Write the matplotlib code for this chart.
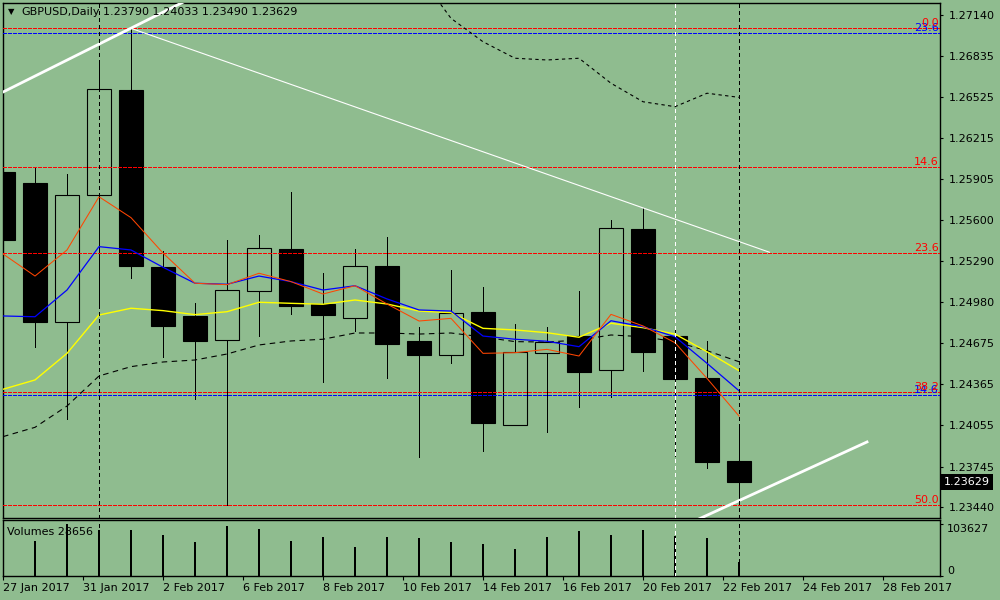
import numpy as np
import matplotlib
matplotlib.use('Agg')
import matplotlib.pyplot as plt

bg = '#8FBC8F'

# GBPUSD daily bars, left to right (last one is the current 22 Feb bar)
opens  = [1.25960, 1.25877, 1.24833, 1.25787, 1.26576, 1.25246, 1.24878, 1.24697,
          1.25066, 1.25381, 1.24968, 1.24863, 1.25254, 1.24690, 1.24585, 1.24908,
          1.24058, 1.24600, 1.24727, 1.24472, 1.25532, 1.24727, 1.24412, 1.23790]
highs  = [1.26043, 1.25998, 1.25945, 1.26802, 1.27040, 1.25366, 1.24975, 1.25449,
          1.25487, 1.25810, 1.25201, 1.25381, 1.25471, 1.24795, 1.25223, 1.25096,
          1.24818, 1.24795, 1.25066, 1.25599, 1.25689, 1.24773, 1.24690, 1.24033]
lows   = [1.25156, 1.24645, 1.24104, 1.24970, 1.25163, 1.24570, 1.24254, 1.23457,
          1.24727, 1.24893, 1.24382, 1.24765, 1.24412, 1.23818, 1.24524, 1.23863,
          1.24058, 1.24006, 1.24194, 1.24269, 1.24464, 1.23825, 1.23735, 1.23490]
closes = [1.25449, 1.24833, 1.25787, 1.26584, 1.25254, 1.24803, 1.24690, 1.25073,
          1.25389, 1.24953, 1.24885, 1.25254, 1.24667, 1.24585, 1.24900, 1.24074,
          1.24607, 1.24682, 1.24457, 1.25539, 1.24607, 1.24404, 1.23780, 1.23629]
volumes = [80200, 70100, 103627, 92200, 92200, 82200, 68100, 100200,
           94200, 70100, 78200, 58100, 78200, 76200, 68100, 64100,
           54100, 78200, 90200, 82200, 92200, 80200, 76200, 28656]

# moving averages
ma_orange = [1.25344, 1.25178, 1.25374, 1.25774, 1.25617, 1.25351, 1.25124, 1.25113,
             1.25199, 1.25136, 1.25043, 1.25105, 1.24968, 1.24840, 1.24860, 1.24597,
             1.24602, 1.24627, 1.24577, 1.24890, 1.24803, 1.24677, 1.24409, 1.24126]
ma_blue   = [1.24878, 1.24872, 1.25073, 1.25399, 1.25374, 1.25244, 1.25124, 1.25116,
             1.25178, 1.25136, 1.25073, 1.25105, 1.25006, 1.24923, 1.24915, 1.24727,
             1.24703, 1.24688, 1.24647, 1.24842, 1.24797, 1.24722, 1.24522, 1.24316]
ma_yellow = [1.24327, 1.24397, 1.24597, 1.24885, 1.24936, 1.24918, 1.24888, 1.24910,
             1.24981, 1.24973, 1.24966, 1.24998, 1.24968, 1.24915, 1.24903, 1.24785,
             1.24773, 1.24752, 1.24718, 1.24823, 1.24790, 1.24742, 1.24609, 1.24467]
ma_black  = [1.23971, 1.24041, 1.24201, 1.24427, 1.24497, 1.24532, 1.24547, 1.24592,
             1.24660, 1.24690, 1.24703, 1.24750, 1.24750, 1.24742, 1.24750, 1.24720,
             1.24685, 1.24682, 1.24697, 1.24735, 1.24722, 1.24685, 1.24617, 1.24534]
# upper dashed curve, visible from bar 13 on
ma_top_start = 13
ma_top = [1.27441, 1.27115, 1.26939, 1.26815, 1.26802, 1.26815, 1.26627, 1.26488,
          1.26451, 1.26552, 1.26521]

fib_red = [('0.0', 1.27040), ('14.6', 1.26000), ('23.6', 1.25349),
           ('38.2', 1.24304), ('50.0', 1.23457)]
fib_blue = [('23.6', 1.27002), ('14.6', 1.24284)]

# trend lines (bar index, price)
trend_thick1 = ([-1, 6], [1.26441, 1.27281])
trend_thick2 = ([21.5, 27.0], [1.23325, 1.23931])
trend_thin = ([4, 23.95], [1.27040, 1.25357])

sep_black = [3, 23]
sep_white = [21]

price_ticks = [1.27140, 1.26835, 1.26525, 1.26215, 1.25905, 1.25600, 1.25290,
               1.24980, 1.24675, 1.24365, 1.24055, 1.23745, 1.23440]
date_labels = ['27 Jan 2017', '31 Jan 2017', '2 Feb 2017', '6 Feb 2017', '8 Feb 2017',
               '10 Feb 2017', '14 Feb 2017', '16 Feb 2017', '20 Feb 2017',
               '22 Feb 2017', '24 Feb 2017', '28 Feb 2017']

W, H = 1000, 600
px = 72 / 100  # one pixel in points
fig = plt.figure(figsize=(10, 6), dpi=100, facecolor=bg)
ax = fig.add_axes([3 / W, 1 - 518 / H, 937 / W, 515 / H], facecolor=bg)
axv = fig.add_axes([3 / W, 1 - 576 / H, 937 / W, 56 / H], facecolor=bg)

x = np.arange(len(opens))
o, h, l, c = map(np.array, (opens, highs, lows, closes))
up = c >= o

ax.vlines(x, l, h, color='black', lw=px, zorder=2, antialiased=False)
ax.bar(x[up], (c - o)[up], bottom=o[up], width=0.74, facecolor=bg,
       edgecolor='black', lw=0.8, zorder=3)
ax.bar(x[~up], (o - c)[~up], bottom=c[~up], width=0.74, color='black',
       edgecolor='black', lw=0.8, zorder=3)

for lab, p in fib_red:
    ax.axhline(p, color='#FF0000', lw=px, dashes=(4, 2), zorder=4,
               antialiased=False)
for lab, p in fib_blue:
    ax.axhline(p, color='#0000FF', lw=px, dashes=(4, 2), zorder=4,
               antialiased=False)
yt = ax.get_yaxis_transform()
for lab, p in fib_blue:
    ax.text(0.9985, p, lab, transform=yt, ha='right', va='bottom',
            color='#0000FF', fontsize=8, zorder=6)
for lab, p in fib_red:
    ax.text(0.9985, p, lab, transform=yt, ha='right', va='bottom',
            color='#FF0000', fontsize=8, zorder=6)

ax.plot(x, ma_black, color='black', lw=0.8, dashes=(5, 4), zorder=5)
ax.plot(x[ma_top_start:], ma_top, color='black', lw=0.8, dashes=(3, 3), zorder=5)
ax.plot(x, ma_yellow, color='#FFFF00', lw=1.0, zorder=5)
ax.plot(x, ma_blue, color='#0000FF', lw=0.9, zorder=5)
ax.plot(x, ma_orange, color='#FF4500', lw=0.75, zorder=5)

ax.plot(*trend_thick1, color='white', lw=2.0, zorder=6)
ax.plot(*trend_thick2, color='white', lw=2.0, zorder=6)
ax.plot(*trend_thin, color='white', lw=0.8, zorder=6)

for a in (ax, axv):
    for b in sep_black:
        a.axvline(b, color='black', lw=px, dashes=(4, 3), zorder=7,
                  antialiased=False)
    for b in sep_white:
        a.axvline(b, color='white', lw=px, dashes=(4, 3), zorder=7,
                  antialiased=False)

axv.vlines(x, 0, volumes, color='black', lw=2 * px, zorder=3, antialiased=False)

xmax = 937 / 32
ax.set_xlim(0, xmax)
ax.set_ylim(1.27140 - 503 / 13305, 1.27140 + 12 / 13305)
axv.set_xlim(0, xmax)
axv.set_ylim(0, 112200)

for a in (ax, axv):
    for s in a.spines.values():
        s.set_color('black')
        s.set_linewidth(1.0)

ax.yaxis.tick_right()
ax.set_yticks(price_ticks)
ax.set_yticklabels(['%.5f' % v for v in price_ticks])
ax.tick_params(axis='y', direction='out', length=2.5, width=0.8, pad=3.5,
               labelsize=8, colors='black')
ax.set_xticks([])

axv.yaxis.tick_right()
axv.set_yticks([0, 103627])
axv.set_yticklabels(['0', '103627'])
axv.tick_params(axis='y', direction='out', length=2, width=0.8, pad=3,
                labelsize=8)
tl = axv.get_yticklabels()
tl[0].set_va('bottom')
tl[1].set_va('top')

axv.set_xticks(np.arange(len(date_labels)) * 2.5)
axv.set_xticklabels(date_labels)
axv.tick_params(axis='x', direction='out', length=3, width=0.8, pad=2,
                labelsize=8)
for t in axv.get_xticklabels():
    t.set_ha('left')

# header and panel captions
fig.text(11 / W, 1 - 12 / H, '\u25BC', fontsize=6, ha='center', va='center')
fig.text(21 / W, 1 - 12 / H, 'GBPUSD,Daily', fontsize=8, ha='left', va='center')
fig.text(103 / W, 1 - 12 / H, '%.5f %.5f %.5f %.5f' % (opens[-1], highs[-1], lows[-1], closes[-1]),
         fontsize=8, ha='left', va='center')
fig.text(7 / W, 1 - 532 / H, 'Volumes %d' % volumes[-1], fontsize=8,
         ha='left', va='center')

ax.text(1.004, closes[-1], '%.5f' % closes[-1], transform=yt, ha='left',
        va='center', color='white', fontsize=8, clip_on=False, zorder=8,
        bbox=dict(boxstyle='square,pad=0.25', fc='black', ec='none'))

fig.savefig('out.png', dpi=100, facecolor=bg)
